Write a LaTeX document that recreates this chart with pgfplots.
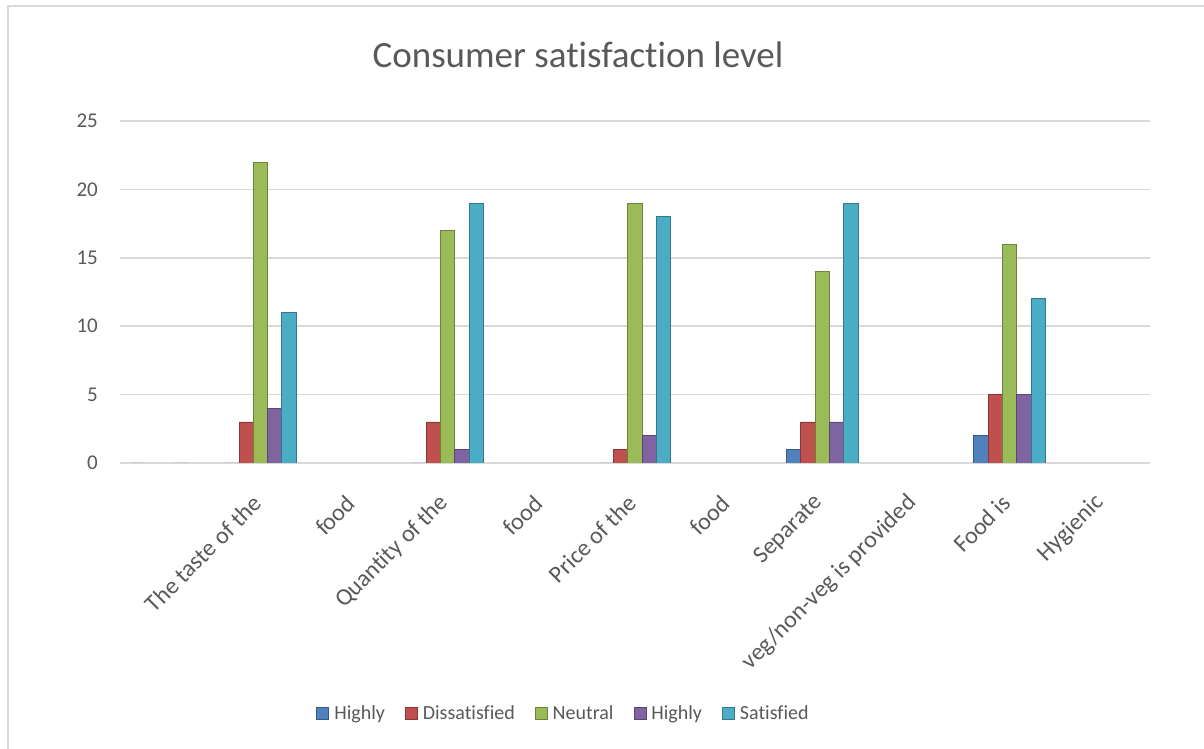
\documentclass[border=0pt]{standalone}
\usepackage{pgfplots}
\pgfplotsset{compat=1.18}
\usepackage{fontspec}
\setmainfont{Carlito}[Ligatures=NoCommon]
\definecolor{txt}{HTML}{595959}
\definecolor{gridc}{HTML}{D9D9D9}
\definecolor{cblue}{HTML}{4F81BD}
\definecolor{cred}{HTML}{C0504D}
\definecolor{cgreen}{HTML}{9BBB59}
\definecolor{cpurple}{HTML}{8064A2}
\definecolor{ccyan}{HTML}{4BACC6}
\pgfplotsset{sq/.style={legend image code/.code={\fill[##1] (0pt,-6pt) rectangle (12pt,6pt);}}}
\begin{document}
\begin{tikzpicture}[x=1pt,y=1pt]
\useasboundingbox (0,0) rectangle (1204,749);
\begin{scope}
\clip (0,0) rectangle (1204,749);
\draw[color=gridc, line width=1.5pt] (8,-10) -- (8,743) -- (1220,743);
\end{scope}
\node[anchor=base, text=txt, font=\fontsize{37}{43}\selectfont, inner sep=0pt] at (578,681) {Consumer satisfaction level};
\begin{axis}[
  at={(120pt,286pt)}, anchor=south west, scale only axis,
  width=1030pt, height=342pt,
  xmin=-0.5, xmax=10.5, ymin=0, ymax=25,
  ybar=0pt, bar width=14.3pt,
  ytick={0,5,...,25},
  xtick={1,...,10},
  xticklabels={The taste of the, food, Quantity of the, food, Price of the, food, Separate, veg/non-veg is provided, Food is, Hygienic},
  axis line style={draw=none}, tick style={draw=none},
  ymajorgrids, grid style={color=gridc, line width=1.6pt},
  /pgf/number format/assume math mode=true,
  ticklabel style={font=\fontsize{21}{25}\selectfont, text=txt},
  yticklabel style={inner sep=0pt, xshift=-22pt},
  xticklabel style={font=\fontsize{24}{28}\selectfont, yshift=-32pt, xshift=-3pt, rotate=45, anchor=east, inner sep=0pt},
  legend style={at={(0.4306,-0.731)}, anchor=center, draw=none, legend columns=5,
    font=\fontsize{20}{24}\selectfont, text=txt,
    /tikz/every odd column/.append style={column sep=3pt},
    /tikz/every even column/.append style={column sep=18pt}},
]
\addplot[sq, fill=cblue, draw=cblue!70!black, line width=0.9pt] coordinates {(0,0) (1,0) (3,0) (5,0) (7,1) (9,2)};
\addplot[sq, fill=cred, draw=cred!70!black, line width=0.9pt] coordinates {(1,3) (3,3) (5,1) (7,3) (9,5)};
\addplot[sq, fill=cgreen, draw=cgreen!70!black, line width=0.9pt] coordinates {(1,22) (3,17) (5,19) (7,14) (9,16)};
\addplot[sq, fill=cpurple, draw=cpurple!70!black, line width=0.9pt] coordinates {(0,0) (1,4) (3,1) (5,2) (7,3) (9,5)};
\addplot[sq, fill=ccyan, draw=ccyan!70!black, line width=0.9pt] coordinates {(1,11) (3,19) (5,18) (7,19) (9,12)};
\legend{Highly, Dissatisfied, Neutral, Highly, Satisfied}
\end{axis}
\end{tikzpicture}
\end{document}
